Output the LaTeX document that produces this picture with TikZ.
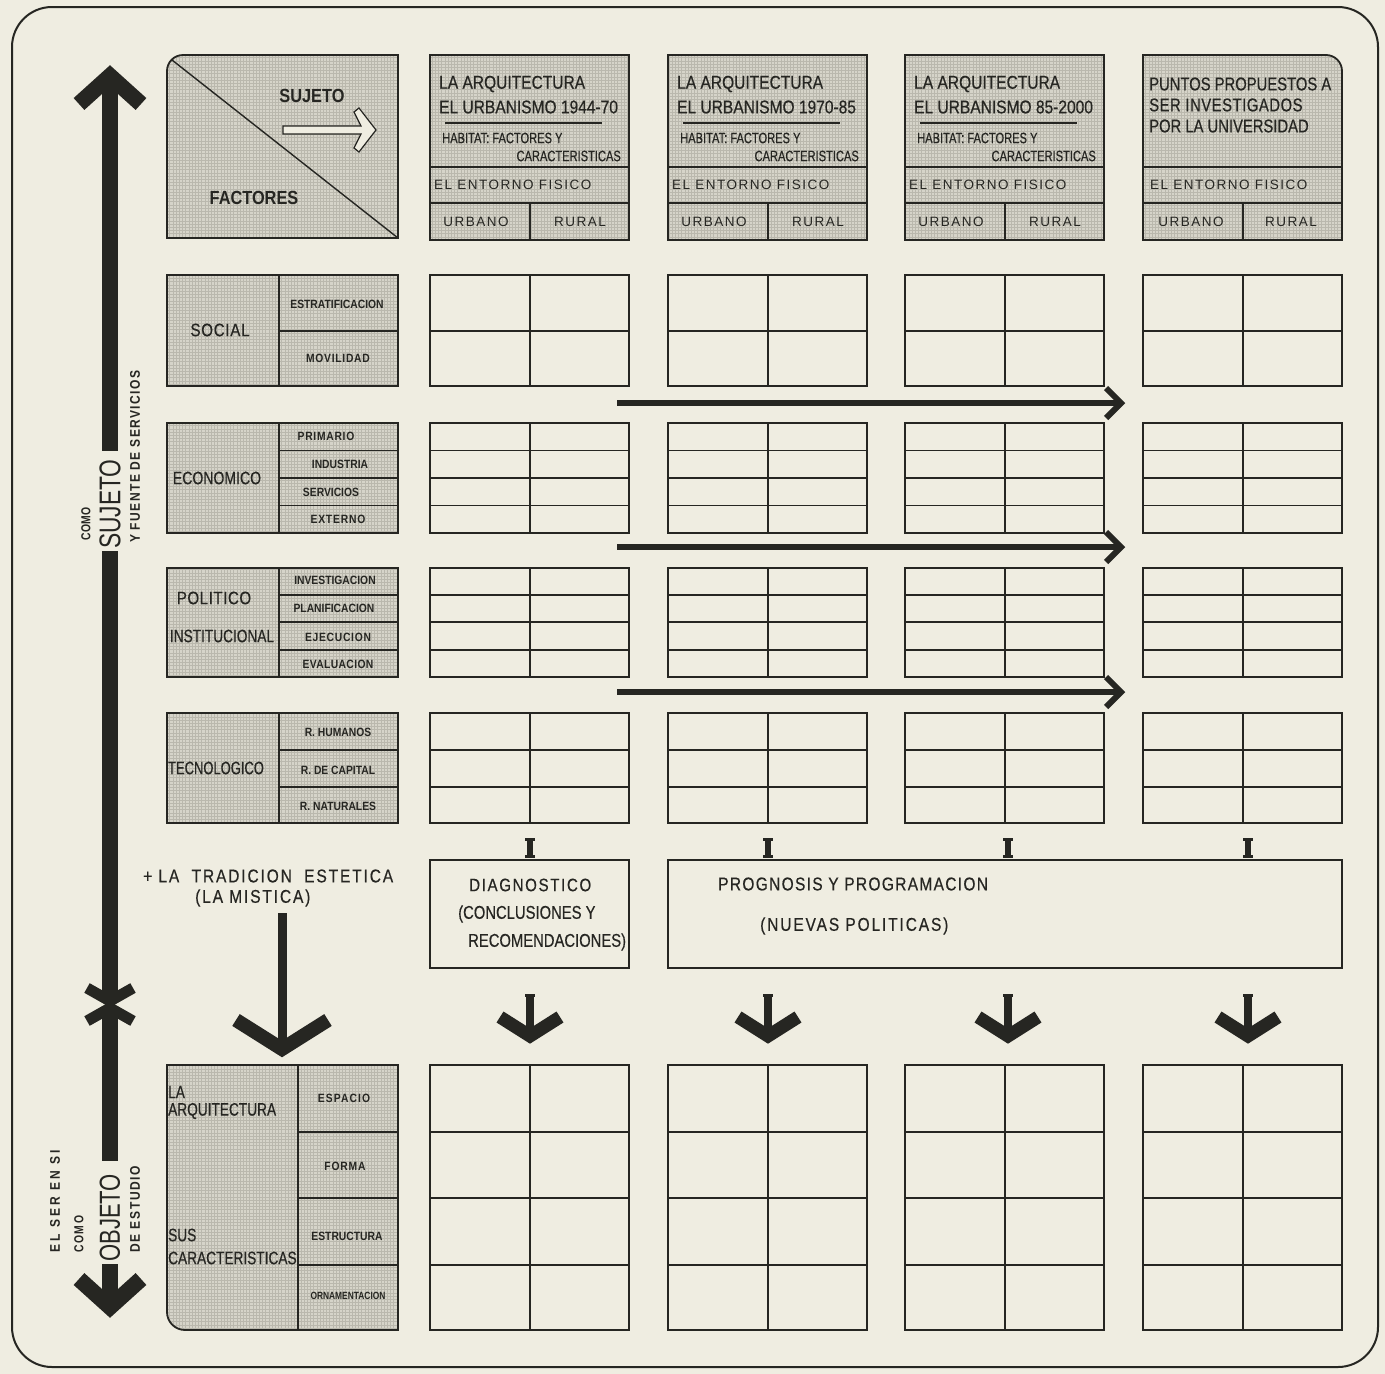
\documentclass[tikz,border=0pt]{standalone}
\usepackage{fontspec}
\setmainfont{Liberation Sans}
\newfontfamily\cond[FakeStretch=0.84,FakeBold=0.4]{Liberation Sans}
\newfontfamily\condb[FakeStretch=0.86]{Liberation Sans Bold}
\newfontfamily\narb[FakeStretch=0.8]{Liberation Sans Bold}
\usetikzlibrary{arrows.meta}
\definecolor{paper}{RGB}{239,237,225}
\definecolor{shade}{RGB}{214,212,201}
\definecolor{mesh}{RGB}{186,184,173}
\definecolor{ink}{RGB}{38,38,34}
\tikzset{
  lab/.style={inner sep=0pt, text=ink},
  hdr/.style={lab, anchor=west, font=\cond\fontsize{18.5}{20}\selectfont},
  subt/.style={lab, font=\cond\fontsize{15}{16}\selectfont\addfontfeatures{FakeStretch=0.74}},
  spaced/.style={lab, font=\fontsize{13.5}{15}\selectfont\addfontfeatures{LetterSpace=11}},
  fac/.style={lab, font=\cond\fontsize{18}{20}\selectfont\addfontfeatures{LetterSpace=4}},
  sml/.style={lab, font=\condb\fontsize{12}{13}\selectfont},
  mid/.style={lab, anchor=west, font=\cond\fontsize{18}{20}\selectfont\addfontfeatures{LetterSpace=8}},
  boxl/.style={draw=ink, line width=1.8pt},
  shaded/.style={boxl, fill=shade, path picture={\draw[mesh, line width=0.35pt, step=3.2pt] (path picture bounding box.south west) grid (path picture bounding box.north east);}},
  thinl/.style={draw=ink, line width=1.4pt},
  bigarrow/.style={draw=ink, line width=16pt},
  flow/.style={draw=ink, line width=6pt},
}
\newcommand\gblock[4]{%
  \draw[boxl] (#1,#2) rectangle (#1+199,#3);
  \draw[thinl] (#1+100,#2) -- (#1+100,#3);
  \foreach \yy in {#4} {\draw[thinl] (#1,\yy) -- (#1+199,\yy);}%
}
\newcommand\fblock[3]{%
  \draw[shaded] (167,#1) rectangle (398,#2);
  \draw[thinl] (279,#1) -- (279,#2);
  \foreach \yy in {#3} {\draw[thinl] (279,\yy) -- (398,\yy);}%
}
\begin{document}
\begin{tikzpicture}[x=1pt,y=-1pt]
\useasboundingbox (0,0) rectangle (1385,1374);
\fill[paper] (0,0) rectangle (1385,1374);
\draw[ink, line width=2pt, rounded corners=40] (12,7) rectangle (1378,1367);

% ---------- corner box ----------
\draw[shaded] (167,238) -- (167,120) [rounded corners=16] -- (167,55) -- (300,55) [sharp corners] -- (398,55) -- (398,238) -- cycle;
\draw[thinl] (172,60) -- (398,238);
\node[lab, font=\condb\fontsize{19}{21}\selectfont] (suj) at (312,96) {SUJETO};
\node[lab, font=\condb\fontsize{19}{21}\selectfont] (fac) at (254,198) {FACTORES};
\draw[ink, line width=1.2pt, fill=paper] (283,126) -- (361,126) -- (354,112) -- (359,108) -- (376,130) -- (359,152) -- (354,148) -- (361,134) -- (283,134) -- cycle;

% ---------- column headers ----------
\foreach \x/\per in {430/1944-70, 668/1970-85, 905/85-2000} {
  \draw[shaded] (\x,55) rectangle (\x+199,240);
  \draw[thinl] (\x,167) -- (\x+199,167);
  \draw[thinl] (\x,203) -- (\x+199,203);
  \draw[thinl] (\x+100,203) -- (\x+100,240);
  \node[hdr] (ha\x) at (\x+9,84) {LA ARQUITECTURA};
  \node[hdr] (hb\x) at (\x+9,107) {EL URBANISMO \per};
  \draw[ink, line width=1.5pt] (\x+15,123) -- (\x+172,123);
  \node[subt, anchor=west] (hc\x) at (\x+12,138) {HABITAT: FACTORES Y};
  \node[subt, anchor=east] (hd\x) at (\x+191,156) {CARACTERISTICAS};
  \node[spaced, anchor=west] (he\x) at (\x+4,185) {EL ENTORNO FISICO};
  \node[spaced] (hf\x) at (\x+46,222) {URBANO};
  \node[spaced] (hg\x) at (\x+150,222) {RURAL};
}
\draw[shaded] (1143,240) -- (1143,55) -- (1250,55) [rounded corners=16] -- (1342,55) -- (1342,140) [sharp corners] -- (1342,240) -- cycle;
\draw[thinl] (1143,167) -- (1342,167);
\draw[thinl] (1143,203) -- (1342,203);
\draw[thinl] (1243,203) -- (1243,240);
\node[hdr, font=\cond\fontsize{18.5}{20}\selectfont\addfontfeatures{FakeStretch=0.8}] (p1) at (1149,84) {PUNTOS PROPUESTOS A};
\node[hdr, font=\cond\fontsize{18.5}{20}\selectfont\addfontfeatures{FakeStretch=0.8,LetterSpace=3}] (p2) at (1149,105) {SER INVESTIGADOS};
\node[hdr, font=\cond\fontsize{18.5}{20}\selectfont\addfontfeatures{FakeStretch=0.8}] (p3) at (1149,126) {POR LA UNIVERSIDAD};
\node[spaced, anchor=west] (pe) at (1150,185) {EL ENTORNO FISICO};
\node[spaced] (pf) at (1191,222) {URBANO};
\node[spaced] (pg) at (1291,222) {RURAL};

% ---------- factor blocks ----------
\fblock{275}{386}{331}
\fblock{423}{533}{450.5,478,505.5}
\fblock{568}{677}{595,622,650}
\fblock{713}{823}{750,787}
\node[fac] (so) at (220,330) {SOCIAL};
\node[sml] (s1) at (337,304) {ESTRATIFICACION};
\node[sml, font=\condb\fontsize{12}{13}\selectfont\addfontfeatures{LetterSpace=6}] (s2) at (338,358) {MOVILIDAD};
\node[fac, font=\cond\fontsize{18}{20}\selectfont\addfontfeatures{FakeStretch=0.78}] (ec) at (217,478) {ECONOMICO};
\node[sml, font=\condb\fontsize{12}{13}\selectfont\addfontfeatures{LetterSpace=6}] (e1) at (326,436) {PRIMARIO};
\node[sml] (e2) at (340,464) {INDUSTRIA};
\node[sml] (e3) at (331,492) {SERVICIOS};
\node[sml, font=\condb\fontsize{12}{13}\selectfont\addfontfeatures{LetterSpace=7}] (e4) at (338,519) {EXTERNO};
\node[fac, font=\cond\fontsize{18}{20}\selectfont\addfontfeatures{LetterSpace=3}] (po) at (214,598) {POLITICO};
\node[fac, font=\cond\fontsize{18}{20}\selectfont\addfontfeatures{FakeStretch=0.76}] (in) at (222,636) {INSTITUCIONAL};
\node[sml] (i1) at (335,580) {INVESTIGACION};
\node[sml] (i2) at (334,608) {PLANIFICACION};
\node[sml, font=\condb\fontsize{12}{13}\selectfont\addfontfeatures{LetterSpace=6}] (i3) at (338,637) {EJECUCION};
\node[sml, font=\condb\fontsize{12}{13}\selectfont\addfontfeatures{LetterSpace=3}] (i4) at (338,664) {EVALUACION};
\node[fac, font=\cond\fontsize{18}{20}\selectfont\addfontfeatures{FakeStretch=0.72}] (te) at (216,768) {TECNOLOGICO};
\node[sml] (t1) at (338,732) {R. HUMANOS};
\node[sml] (t2) at (338,770) {R. DE CAPITAL};
\node[sml] (t3) at (338,806) {R. NATURALES};

% ---------- grids ----------
\foreach \x in {430,668,905,1143} {
  \gblock{\x}{275}{386}{331}
  \gblock{\x}{423}{533}{450.5,478,505.5}
  \gblock{\x}{568}{677}{595,622,650}
  \gblock{\x}{713}{823}{750,787}
  \gblock{\x}{1065}{1330}{1132,1198,1265}
}

% ---------- horizontal arrows ----------
\foreach \yy [count=\i] in {403,547,692} {
  \coordinate (hs\i) at (617,\yy);
  \coordinate (ht\i) at (1118,\yy);
  \draw[flow] (hs\i) -- (ht\i);
  \draw[flow, line join=miter] (1106,\yy-15) -- (1121,\yy) -- (1106,\yy+15);
}

% ---------- I connectors ----------
\foreach \x in {530,768,1008,1248} {
  \draw[ink, line width=6pt] (\x,838) -- (\x,858);
  \draw[ink, line width=2.5pt] (\x-5,839.5) -- (\x+5,839.5);
  \draw[ink, line width=2.5pt] (\x-5,856.5) -- (\x+5,856.5);
}

% ---------- diagnostico / prognosis ----------
\draw[boxl] (430,860) rectangle (629,968);
\draw[boxl] (668,860) rectangle (1342,968);
\node[mid, font=\cond\fontsize{18}{20}\selectfont\addfontfeatures{LetterSpace=9}] (d1) at (469,885) {DIAGNOSTICO};
\node[mid, font=\cond\fontsize{18.5}{20}\selectfont\addfontfeatures{FakeStretch=0.8}] (d2) at (458,914) {(CONCLUSIONES Y};
\node[mid, font=\cond\fontsize{18.5}{20}\selectfont\addfontfeatures{FakeStretch=0.8}] (d3) at (468,942) {RECOMENDACIONES)};
\node[mid, font=\cond\fontsize{18.5}{20}\selectfont\addfontfeatures{LetterSpace=7}] (g1) at (718,884) {PROGNOSIS Y PROGRAMACION};
\node[mid, font=\cond\fontsize{18.5}{20}\selectfont\addfontfeatures{LetterSpace=10}] (g2) at (760,926) {(NUEVAS POLITICAS)};

% ---------- tradicion ----------
\node[mid, font=\cond\fontsize{18.5}{20}\selectfont\addfontfeatures{LetterSpace=10}] (tr1) at (143,876) {+ LA\ \ TRADICION\ \ ESTETICA};
\node[mid, font=\cond\fontsize{18.5}{20}\selectfont\addfontfeatures{LetterSpace=10}] (tr2) at (195,898) {(LA MISTICA)};
\coordinate (ta) at (282,913);
\coordinate (tb) at (282,1045);
\draw[ink, line width=9pt] (ta) -- (tb);
\draw[ink, line width=14pt, line join=miter] (236,1020) -- (282,1049) -- (328,1020);

% ---------- down arrows ----------
\foreach \x in {530,768,1008,1248} {
  \draw[ink, line width=8pt] (\x,994) -- (\x,1034);
  \draw[ink, line width=3pt] (\x-5,995) -- (\x+5,995);
  \draw[ink, line width=13pt, line join=miter] (\x-30,1017) -- (\x,1036) -- (\x+30,1017);
}

% ---------- bottom factor block ----------
\draw[shaded] (167,1065) -- (167,1250) [rounded corners=18] -- (167,1330) -- (250,1330) [sharp corners] -- (398,1330) -- (398,1065) -- cycle;
\draw[thinl] (298,1065) -- (298,1330);
\foreach \yy in {1132,1198,1265} {\draw[thinl] (298,\yy) -- (398,\yy);}
\node[lab, anchor=west, font=\cond\fontsize{18}{19}\selectfont\addfontfeatures{FakeStretch=0.76}] (b1) at (168,1092) {LA};
\node[lab, anchor=west, font=\cond\fontsize{18}{19}\selectfont\addfontfeatures{FakeStretch=0.76}] (b2) at (168,1111) {ARQUITECTURA};
\node[lab, anchor=west, font=\cond\fontsize{18}{19}\selectfont\addfontfeatures{FakeStretch=0.76}] (b3) at (168,1235) {SUS};
\node[lab, anchor=west, font=\cond\fontsize{18}{19}\selectfont\addfontfeatures{FakeStretch=0.76}] (b4) at (168,1258) {CARACTERISTICAS};
\node[sml, font=\condb\fontsize{12}{13}\selectfont\addfontfeatures{LetterSpace=9}] (o1) at (344,1098) {ESPACIO};
\node[sml, font=\condb\fontsize{12}{13}\selectfont\addfontfeatures{LetterSpace=7}] (o2) at (345,1166) {FORMA};
\node[sml] (o3) at (347,1236) {ESTRUCTURA};
\node[sml, font=\condb\fontsize{10.5}{12}\selectfont\addfontfeatures{FakeStretch=0.8}] (o4) at (348,1296) {ORNAMENTACION};

% ---------- left double arrows ----------
\draw[bigarrow] (110,78) -- (110,451);
\draw[bigarrow] (110,551) -- (110,1000);
\draw[bigarrow, line join=miter] (79,104) -- (110,76) -- (141,104);
\draw[ink, line width=11pt, line join=miter] (87,988) -- (110,1001) -- (133,988);
\draw[ink, line width=11pt, line join=miter] (87,1021) -- (110,1008) -- (133,1021);
\draw[bigarrow] (110,1008) -- (110,1161);
\draw[bigarrow] (110,1264) -- (110,1300);
\draw[bigarrow, line join=miter] (79,1279) -- (110,1307) -- (141,1279);

\node[lab, rotate=90, anchor=west, font=\narb\fontsize{13}{15}\selectfont\addfontfeatures{LetterSpace=3}] (c1) at (86,541) {COMO};
\node[lab, rotate=90, anchor=west, font=\cond\fontsize{30}{32}\selectfont\addfontfeatures{FakeStretch=0.76,FakeBold=0}] (c2) at (110,549) {SUJETO};
\node[lab, rotate=90, anchor=west, font=\condb\fontsize{14}{15}\selectfont\addfontfeatures{LetterSpace=10}] (c3) at (135,543) {Y FUENTE DE SERVICIOS};
\node[lab, rotate=90, anchor=west, font=\condb\fontsize{14}{15}\selectfont\addfontfeatures{LetterSpace=22}] (c4) at (55,1253) {EL SER EN SI};
\node[lab, rotate=90, anchor=west, font=\narb\fontsize{13}{15}\selectfont\addfontfeatures{LetterSpace=12}] (c5) at (79,1253) {COMO};
\node[lab, rotate=90, anchor=west, font=\cond\fontsize{29}{31}\selectfont\addfontfeatures{FakeStretch=0.76,FakeBold=0}] (c6) at (110,1262) {OBJETO};
\node[lab, rotate=90, anchor=west, font=\condb\fontsize{14}{15}\selectfont\addfontfeatures{LetterSpace=12}] (c7) at (135,1253) {DE ESTUDIO};
\end{tikzpicture}
\end{document}
